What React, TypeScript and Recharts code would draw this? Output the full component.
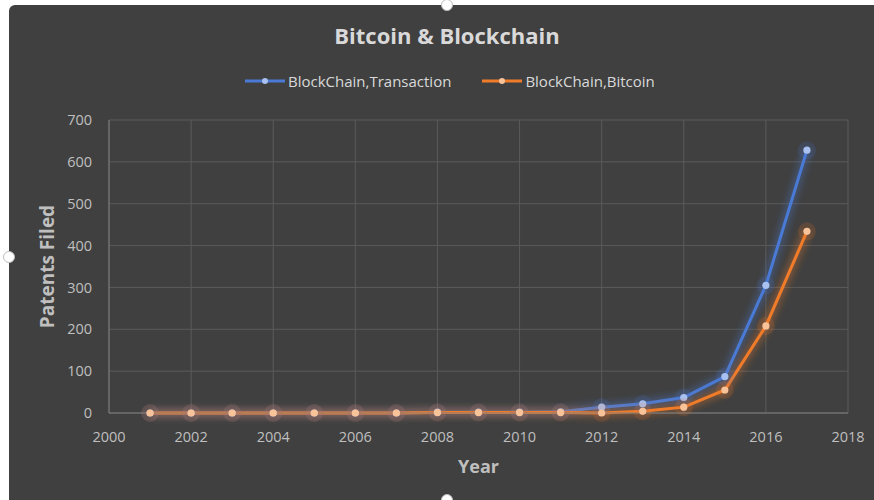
import { LineChart, Line, XAxis, YAxis, CartesianGrid } from "recharts";

const years = [2001, 2002, 2003, 2004, 2005, 2006, 2007, 2008, 2009, 2010, 2011, 2012, 2013, 2014, 2015, 2016, 2017];
const transaction = [0, 0, 0, 0, 0, 0, 0, 2, 2, 2, 3, 14, 22, 37, 87, 305, 628];
const bitcoin = [0, 0, 0, 0, 0, 0, 0, 1, 1, 1, 1, 0, 4, 14, 55, 208, 434];
const xTicks = [2000, 2002, 2004, 2006, 2008, 2010, 2012, 2014, 2016, 2018];
const yTicks = [0, 100, 200, 300, 400, 500, 600, 700];

const series = [
  { key: "transaction", name: "BlockChain,Transaction", color: "#4a7ad6", dot: "#a8c1f0", glow: "glowBlue" },
  { key: "bitcoin", name: "BlockChain,Bitcoin", color: "#f07c2a", dot: "#f9c39a", glow: "glowOrange" },
];

const data = years.map((year, i) => ({ year, transaction: transaction[i], bitcoin: bitcoin[i] }));

const FONT = "'Open Sans', 'Noto Sans', sans-serif";
const tickStyle = { fill: "#bfbfbf", fontSize: 14.5, fontFamily: FONT };

function GlowDot(props: any) {
  const { cx, cy, fill, halo } = props;
  if (cx == null || cy == null) return null;
  return (
    <g>
      <circle cx={cx} cy={cy} r={9} fill={halo} opacity={0.15} />
      <circle cx={cx} cy={cy} r={3.6} fill={fill} />
    </g>
  );
}

function Handle({ left, top }: { left: number; top: number }) {
  return (
    <div
      style={{
        position: "absolute",
        left: left - 6,
        top: top - 6,
        width: 10,
        height: 10,
        borderRadius: "50%",
        background: "#fff",
        border: "1px solid #bdbdbd",
      }}
    />
  );
}

export default function App() {
  return (
    <div style={{ position: "relative", width: 874, height: 500, background: "#fff", overflow: "hidden", fontFamily: FONT }}>
      <style>{"body{margin:0}"}</style>
      <div
        style={{
          position: "absolute",
          left: 9,
          top: 5,
          width: 865,
          height: 495,
          background: "#404040",
          borderTopLeftRadius: 6,
        }}
      >
        <div
          style={{
            position: "absolute",
            left: 238,
            width: 400,
            top: 15,
            textAlign: "center",
            color: "#d9d9d9",
            fontSize: 22,
            fontWeight: 700,
          }}
        >
          Bitcoin &amp; Blockchain
        </div>
        <div
          style={{
            position: "absolute",
            left: 236,
            top: 66,
            display: "flex",
            alignItems: "center",
            color: "#d9d9d9",
            fontSize: 15,
          }}
        >
          {series.map((s, i) => (
            <div key={s.key} style={{ display: "flex", alignItems: "center", marginLeft: i ? 31 : 0 }}>
              <svg width={40} height={10} style={{ marginRight: 3 }}>
                <line x1={0} y1={5} x2={40} y2={5} stroke={s.color} strokeWidth={3} />
                <circle cx={20} cy={5} r={3} fill={s.dot} />
              </svg>
              <span>{s.name}</span>
            </div>
          ))}
        </div>
        <div style={{ position: "absolute", left: 0, top: 0 }}>
          <LineChart width={865} height={495} data={data} margin={{ top: 115, right: 26, bottom: 27, left: 10 }}>
            <defs>
              <filter id="glowBlue" x="-20%" y="-20%" width="140%" height="140%">
                <feGaussianBlur in="SourceGraphic" stdDeviation="4" result="blur" />
                <feMerge>
                  <feMergeNode in="blur" />
                  <feMergeNode in="SourceGraphic" />
                </feMerge>
              </filter>
              <filter id="glowOrange" x="-20%" y="-20%" width="140%" height="140%">
                <feGaussianBlur in="SourceGraphic" stdDeviation="4" result="blur" />
                <feMerge>
                  <feMergeNode in="blur" />
                  <feMergeNode in="SourceGraphic" />
                </feMerge>
              </filter>
            </defs>
            <CartesianGrid stroke="#5a5a5a" strokeWidth={1} />
            <XAxis
              dataKey="year"
              type="number"
              domain={[2000, 2018]}
              ticks={xTicks}
              tick={tickStyle}
              tickLine={false}
              axisLine={{ stroke: "#7f7f7f" }}
              tickSize={6}
              tickMargin={13}
              height={60}
              label={{
                value: "Year",
                position: "insideBottom",
                offset: 0,
                style: { fill: "#bfbfbf", fontSize: 18, fontWeight: 700, fontFamily: FONT },
              }}
            />
            <YAxis
              type="number"
              domain={[0, 700]}
              ticks={yTicks}
              tick={tickStyle}
              tickLine={false}
              axisLine={{ stroke: "#7f7f7f" }}
              tickSize={6}
              tickMargin={11}
              width={90}
              label={{
                value: "Patents Filed",
                angle: -90,
                position: "insideLeft",
                offset: 28,
                style: { fill: "#bfbfbf", fontSize: 19, fontWeight: 700, fontFamily: FONT, textAnchor: "middle" },
              }}
            />
            {series.map((s) => (
              <Line
                key={s.key}
                dataKey={s.key}
                name={s.name}
                type="linear"
                stroke={s.color}
                strokeWidth={3}
                filter={`url(#${s.glow})`}
                dot={<GlowDot fill={s.dot} halo={s.color} />}
                activeDot={false}
                isAnimationActive={false}
              />
            ))}
          </LineChart>
        </div>
        <Handle left={438} top={0} />
        <Handle left={0} top={252} />
        <Handle left={438} top={495} />
      </div>
    </div>
  );
}
